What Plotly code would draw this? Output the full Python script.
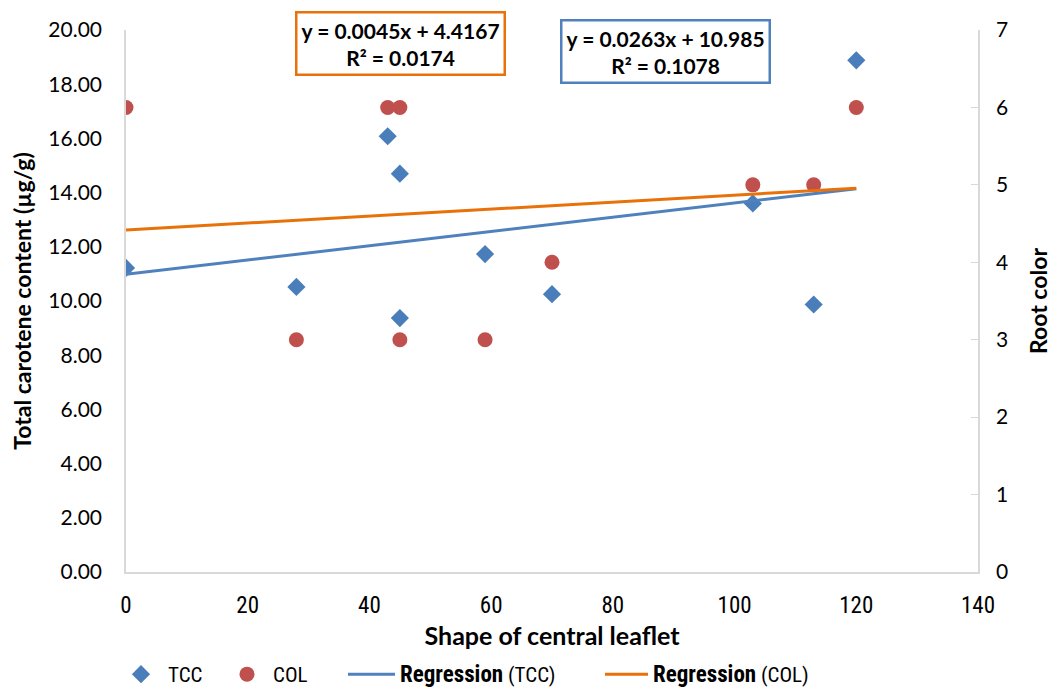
import plotly.graph_objects as go

# Data
shape_x = [0, 28, 43, 45, 45, 59, 70, 103, 113, 120]
tcc = [11.22, 10.52, 16.08, 14.70, 9.37, 11.73, 10.25, 13.60, 9.87, 18.88]
col = [6, 3, 6, 6, 3, 3, 4, 5, 5, 6]

reg_tcc = {"slope": 0.0263, "intercept": 10.985, "r2": 0.1078}
reg_col = {"slope": 0.0045, "intercept": 4.4167, "r2": 0.0174}
reg_x = [min(shape_x), max(shape_x)]

x_ticks = [0, 20, 40, 60, 80, 100, 120, 140]
y_ticks = [0, 2, 4, 6, 8, 10, 12, 14, 16, 18, 20]
y2_ticks = [0, 1, 2, 3, 4, 5, 6, 7]

BLUE = "#4A7EBB"
RED = "#C0504D"
LBLUE = "#4F81BD"
ORANGE = "#E8710A"
AXIS = "#D9D9D9"
FONT = "Lato, Open Sans, sans-serif"
NARROW = "Liberation Sans Narrow, Roboto Condensed, Liberation Sans, sans-serif"

ML, MR, MT, MB = 126, 76, 30, 119
W, H = 1054, 691
pw = W - ML - MR
ph = H - MT - MB


def px_x(p):
    return (p - ML) / pw


def px_y(p):
    return (H - MB - p) / ph


fig = go.Figure()

fig.add_trace(go.Scatter(
    x=shape_x, y=tcc, mode="markers", name="TCC", legend="legend",
    marker=dict(symbol="diamond", size=14, color=BLUE),
))
fig.add_trace(go.Scatter(
    x=shape_x, y=col, mode="markers", name="COL", yaxis="y2", legend="legend2",
    marker=dict(symbol="circle", size=15, color=RED),
))
fig.add_trace(go.Scatter(
    x=reg_x, y=[reg_tcc["intercept"] + reg_tcc["slope"] * v for v in reg_x],
    mode="lines", name="<b><span style='font-size:23px'>Regression</span></b> (TCC)", legend="legend3",
    line=dict(color=LBLUE, width=3),
))
fig.add_trace(go.Scatter(
    x=reg_x, y=[reg_col["intercept"] + reg_col["slope"] * v for v in reg_x],
    mode="lines", name="<b><span style='font-size:23px'>Regression</span></b> (COL)", yaxis="y2", legend="legend4",
    line=dict(color=ORANGE, width=3),
))

leg_common = dict(orientation="h", xanchor="left", yanchor="bottom", y=px_y(H + 4),
                  font=dict(family=NARROW, size=21), bgcolor="rgba(0,0,0,0)")

fig.update_layout(
    width=W, height=H,
    margin=dict(l=ML, r=MR, t=MT, b=MB, autoexpand=False),
    plot_bgcolor="white", paper_bgcolor="white",
    font=dict(family=FONT, size=17, color="black"),
    showlegend=True,
    legend=dict(leg_common, x=px_x(114), itemwidth=44),
    legend2=dict(leg_common, x=px_x(221), itemwidth=42),
    legend3=dict(leg_common, x=px_x(343), itemwidth=47),
    legend4=dict(leg_common, x=px_x(600), itemwidth=43),
    xaxis=dict(
        range=[0, 140], tickvals=x_ticks, ticktext=[str(v) for v in x_ticks],
        showgrid=False, zeroline=False, showline=True, linecolor=AXIS, linewidth=1.5,
        ticks="", tickfont=dict(family=NARROW, size=23), ticklabelstandoff=12,
        title=dict(text="<b>Shape of central leaflet</b>", font=dict(family=FONT, size=25), standoff=9),
    ),
    yaxis=dict(
        range=[0, 20], tickvals=y_ticks, ticktext=[f"{v:.2f}" for v in y_ticks],
        showgrid=False, zeroline=False, showline=True, linecolor=AXIS, linewidth=1.5,
        ticks="", tickfont=dict(family=FONT, size=21), ticklabelstandoff=18,
        title=dict(text="<b>Total carotene content (µg/g)</b>", font=dict(family=FONT, size=23), standoff=10),
    ),
    yaxis2=dict(
        range=[0, 7], tickvals=y2_ticks, overlaying="y", side="right",
        showgrid=False, zeroline=False, showline=True, linecolor=AXIS, linewidth=1.5,
        ticks="inside", ticklen=7, tickcolor=AXIS, tickfont=dict(family=FONT, size=21), ticklabelstandoff=12,
        title=dict(text="<b>Root color</b>", font=dict(family=FONT, size=23), standoff=24),
    ),
)

fig.add_annotation(
    x=px_x(400), y=px_y(43), xref="paper", yref="paper", xanchor="center", yanchor="middle",
    text=f"<b>y = {reg_col['slope']}x + {reg_col['intercept']}<br>R² = {reg_col['r2']}</b>",
    showarrow=False, font=dict(family=FONT, size=21),
    bordercolor=ORANGE, borderwidth=2.5, borderpad=4, bgcolor="white",
)
fig.add_annotation(
    x=px_x(665), y=px_y(51), xref="paper", yref="paper", xanchor="center", yanchor="middle",
    text=f"<b>y = {reg_tcc['slope']}x + {reg_tcc['intercept']}<br>R² = {reg_tcc['r2']}</b>",
    showarrow=False, font=dict(family=FONT, size=21),
    bordercolor=LBLUE, borderwidth=2.5, borderpad=4, bgcolor="white",
)

fig.write_html("out.html")
